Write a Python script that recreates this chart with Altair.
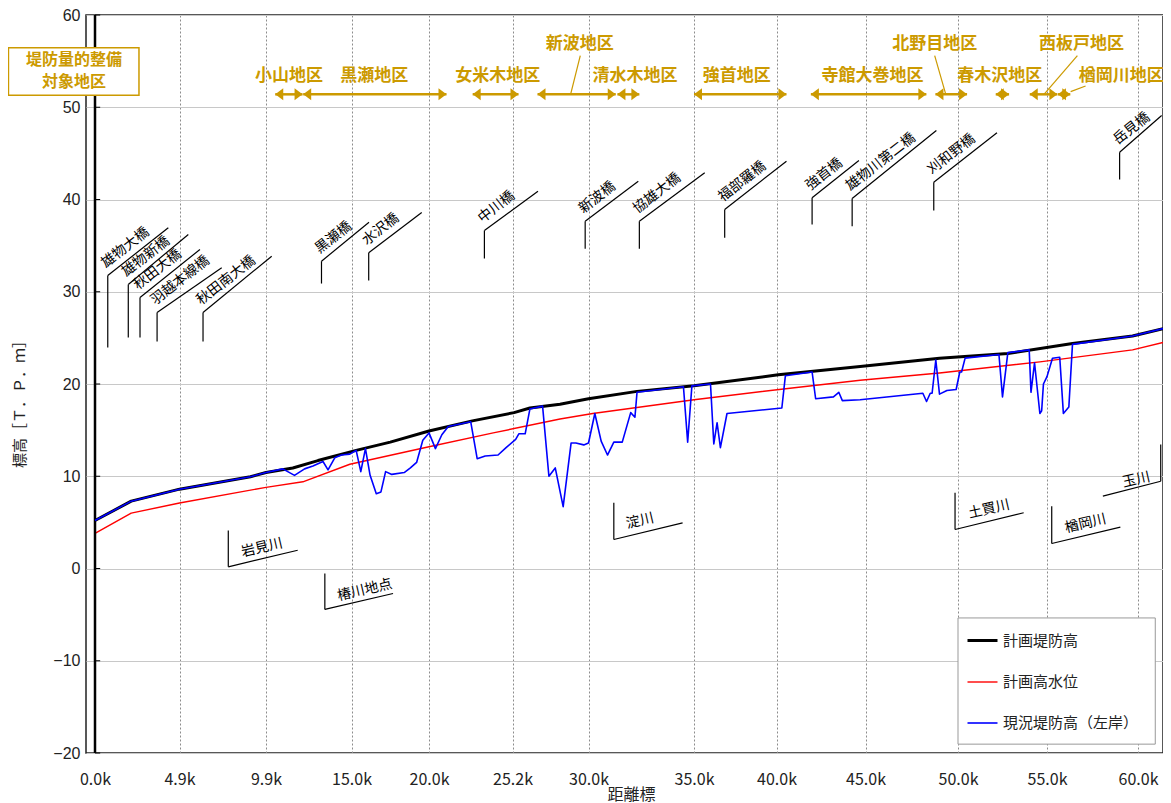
import altair as alt
import pandas as pd

# ---------------- data ----------------
SERIES = ["計画堤防高", "計画高水位", "現況堤防高（左岸）"]

plan_levee_km = [0, 2.1, 4.9, 9.0, 9.9, 11.5, 13.0, 15.3, 17.5, 20.0, 22.7, 25.3, 26.3, 28.2,
                 30.0, 32.3, 35.0, 40.1, 44.7, 49.0, 52.8, 56.4, 59.7, 61.65]
plan_levee_el = [5.2, 7.3, 8.6, 9.95, 10.4, 10.9, 11.7, 12.8, 13.7, 14.9, 16.0, 16.9, 17.4, 17.8,
                 18.4, 19.2, 19.8, 21.0, 21.9, 22.8, 23.3, 24.4, 25.2, 26.0]

hwl_km = [0, 2.1, 4.9, 9.9, 12.1, 14.9, 20.0, 24.0, 28.2, 30.2, 35.0, 41.0, 44.7, 49.0, 54.6,
          59.7, 61.65]
hwl_el = [3.8, 6.0, 7.1, 8.8, 9.4, 11.3, 13.2, 14.7, 16.2, 16.8, 18.3, 19.6, 20.4, 21.2, 22.4,
          23.7, 24.5]

current_km = [0, 2.1, 4.9, 9.0, 9.9, 10.9, 11.6, 12.2, 12.7, 13.3, 13.6, 14.0, 14.4, 14.9, 15.3,
              15.6, 15.9, 16.2, 16.6, 16.9, 17.2, 17.6, 18.4, 18.8, 19.2, 19.6, 20.0, 20.4, 20.8,
              21.2, 22.6, 23.0, 23.5, 24.3, 24.8, 25.4, 25.6, 26.0, 26.3, 27.1, 27.5, 27.9, 28.4,
              28.9, 29.2, 29.7, 30.0, 30.3, 30.6, 30.9, 31.2, 31.6, 32.0, 32.2, 32.3, 34.5, 34.7,
              34.9, 36.0, 36.2, 36.4, 36.6, 37.0, 40.3, 40.5, 42.0, 42.2, 43.2, 43.5, 43.7, 44.7,
              48.1, 48.3, 48.5, 48.6, 48.8, 49.0, 49.4, 49.9, 50.1, 50.2, 50.4, 52.3, 52.5, 52.8,
              54.0, 54.1, 54.3, 54.6, 54.7, 54.8, 55.0, 55.3, 55.7, 55.9, 56.2, 56.4, 59.7, 61.65]
current_el = [5.2, 7.3, 8.6, 9.95, 10.4, 10.8, 10.1, 10.8, 11.1, 11.6, 10.7, 12.0, 12.3, 12.4, 12.8,
              10.5, 13.0, 10.1, 8.1, 8.3, 10.5, 10.2, 10.4, 10.9, 11.5, 13.9, 14.7, 13.0, 14.5,
              15.4, 15.9, 11.9, 12.2, 12.3, 13.1, 14.0, 14.6, 14.6, 17.3, 17.6, 10.0, 10.9, 6.7,
              13.6, 13.6, 13.4, 13.6, 16.8, 13.8, 12.3, 13.7, 13.7, 16.9, 16.4, 19.1, 19.7, 13.7,
              19.8, 20.0, 13.5, 15.8, 13.1, 16.8, 17.4, 20.9, 21.3, 18.4, 18.6, 19.1, 18.2, 18.3,
              19.0, 18.1, 19.0, 19.0, 22.6, 18.9, 19.3, 19.4, 21.3, 21.3, 22.8, 23.2, 18.6, 23.4,
              23.7, 19.1, 22.3, 16.8, 17.1, 20.0, 20.8, 22.8, 22.9, 16.8, 17.5, 24.3, 25.2, 26.0]

x_tick_values = [0, 4.9, 9.9, 15.0, 20.0, 25.2, 30.0, 35.0, 40.0, 45.0, 50.0, 55.0, 60.0]
y_tick_values = [-20, -10, 0, 10, 20, 30, 40, 50, 60]

# bridges: leader foot, bend, end of slanted leader (km, elevation)
bridge_names = ["雄物大橋", "雄物新橋", "秋田大橋", "羽越本線橋", "秋田南大橋", "黒瀬橋", "水沢橋",
                "中川橋", "新波橋", "協雄大橋", "福部羅橋", "強首橋", "雄物川第二橋", "刈和野橋", "岳見橋"]
bridge_km = [0.74, 1.93, 2.61, 3.60, 6.26, 13.21, 16.11, 23.45, 29.79, 32.41, 36.86, 42.0, 44.25,
             48.69, 58.99]
bridge_foot = [23.96, 25.04, 25.04, 24.61, 24.61, 30.89, 31.22, 33.6, 34.66, 34.66, 35.85, 37.29,
               37.1, 38.81, 42.17]
bridge_bend = [31.76, 30.79, 29.38, 27.75, 27.75, 33.31, 34.22, 36.64, 37.65, 37.65, 38.92, 40.18,
               40.11, 41.88, 45.13]
bridge_end_km = [4.25, 5.41, 6.08, 7.34, 10.24, 16.13, 19.53, 26.81, 32.36, 35.65, 40.56, 44.63,
                 48.83, 52.19, 61.56]
bridge_end_el = [36.93, 36.21, 34.58, 32.6, 33.85, 37.54, 38.59, 40.9, 41.98, 42.89, 44.15, 44.23,
                 47.48, 47.23, 49.11]

# tributaries / gauging point
river_names = ["岩見川", "椿川地点", "淀川", "土買川", "楢岡川", "玉川"]
river_km = [7.72, 13.41, 31.2, 49.84, 55.26, 61.5]
river_top = [4.12, -0.54, 7.12, 8.21, 6.75, 13.44]
river_bend = [0.18, -4.44, 3.14, 4.23, 2.71, 9.46]
river_end_km = [11.79, 17.68, 34.46, 53.69, 59.03, 58.07]
river_end_el = [1.98, -2.71, 4.95, 6.04, 4.48, 7.84]
river_label_km = [9.67, 15.86, 32.44, 51.74, 57.12, 59.91]
river_label_el = [2.22, -2.36, 5.13, 6.4, 4.85, 9.59]

# districts (堤防量的整備対象地区)
district_names = ["小山地区", "黒瀬地区", "女米木地区", "新波地区", "清水木地区", "強首地区",
                  "寺館大巻地区", "北野目地区", "春木沢地区", "西板戸地区", "楢岡川地区"]
district_from = [10.45, 12.12, 22.72, 26.78, 31.37, 35.0, 41.93, 48.78, 52.12, 54.03, 55.6]
district_to = [12.08, 21.09, 25.58, 31.29, 32.41, 40.56, 48.29, 50.51, 52.87, 55.57, 56.28]
district_label_km = [11.27, 16.47, 24.28, 29.45, 32.2, 37.59, 45.38, 48.74, 52.34, 56.9, 59.08]
district_label_el = [53.44, 53.44, 53.44, 56.9, 53.44, 53.44, 53.44, 56.9, 53.44, 56.9, 53.44]
district_arrow_el = 51.4
leader_from_km = [28.87, 49.34, 54.83, 56.3]
leader_from_el = [51.4, 51.4, 51.4, 51.7]
leader_to_km = [29.48, 48.74, 56.67, 57.12]
leader_to_el = [55.6, 55.6, 55.6, 52.3]

box_lines = ["堤防量的整備", "対象地区"]
box_km = [-5.0, 2.55]
box_el = [51.3, 56.45]
box_text_km = -1.22
box_text_el = [55.1, 52.7]

legend_box_km = [50.0, 61.14]
legend_box_el = [-19.04, -5.36]

# ---------------- styling ----------------
GOLD = "#CC9A00"
JP = "Noto Sans CJK JP"
W, H = 1077, 738

x_domain = [-0.52] + x_tick_values + [61.65]
x_range = [0, 9, 93.5, 180, 265.5, 343, 426.5, 502.5, 608, 690.5, 779.5, 872, 961, 1052, 1077]
xs = alt.Scale(domain=x_domain, range=x_range, nice=False, zero=False)
ys = alt.Scale(domain=[-20, 60], nice=False, zero=False)

x_axis = alt.Axis(values=x_tick_values, labelExpr="format(datum.value, '.1f') + 'k'",
                  grid=True, gridDash=[2, 2], gridColor="#8c8c8c", gridWidth=1,
                  ticks=False, domain=False, labelPadding=18, labelFont=JP, labelFontSize=16,
                  labelColor="#222", labelOverlap=False, labelFlush=False,
                  title="距離標", titleFont=JP, titleFontSize=16, titleFontWeight="normal",
                  titleColor="#222", titleX=545, titleY=41, titleAlign="center",
                  titleBaseline="middle")
y_axis = alt.Axis(values=y_tick_values, grid=True, gridColor="#c8c8c8", gridWidth=1,
                  ticks=False, domain=False, labelPadding=6, labelFont="Liberation Sans",
                  labelFontSize=16, labelColor="#222",
                  title="標高［Ｔ．Ｐ．ｍ］", titleFont=JP, titleFontSize=15,
                  titleFontWeight="normal", titleColor="#222", titleX=-67, titleY=385,
                  titleAngle=270, titleAlign="center", titleBaseline="middle")


def X(field):
    return alt.X(f"{field}:Q", scale=xs, axis=x_axis)


def Y(field):
    return alt.Y(f"{field}:Q", scale=ys, axis=y_axis)


legend = alt.Legend(title=None, orient="none", legendX=869, legendY=599, direction="vertical",
                    symbolType="stroke", symbolSize=900, symbolOffset=1, labelFont=JP,
                    labelFontSize=15, labelColor="#222", labelOffset=4, padding=10, rowPadding=17,
                    strokeColor="transparent", fillColor="transparent")
color_scale = alt.Scale(domain=SERIES, range=["#000000", "#FF0000", "#0000FF"])
width_scale = alt.Scale(domain=SERIES, range=[3, 1.4, 1.6], type="ordinal")

# ---------------- tables ----------------
series_frames = {
    SERIES[0]: pd.DataFrame({"km": plan_levee_km, "el": plan_levee_el, "series": SERIES[0]}),
    SERIES[1]: pd.DataFrame({"km": hwl_km, "el": hwl_el, "series": SERIES[1]}),
    SERIES[2]: pd.DataFrame({"km": current_km, "el": current_el, "series": SERIES[2]}),
}

bridge_segs = pd.DataFrame({
    "x1": bridge_km + bridge_km,
    "y1": bridge_foot + bridge_bend,
    "x2": bridge_km + bridge_end_km,
    "y2": bridge_bend + bridge_end_el,
})
river_segs = pd.DataFrame({
    "x1": river_km + river_km,
    "y1": river_top + river_bend,
    "x2": river_km + river_end_km,
    "y2": river_bend + river_end_el,
})
bridge_labels = pd.DataFrame({"name": bridge_names, "km": bridge_km, "el": bridge_bend})
river_labels = pd.DataFrame({"name": river_names, "km": river_label_km, "el": river_label_el})
district_arrows = pd.DataFrame({"x1": district_from, "x2": district_to,
                                "y": [district_arrow_el] * len(district_from)})
district_labels = pd.DataFrame({"name": district_names, "km": district_label_km,
                                "el": district_label_el})
leaders = pd.DataFrame({"x1": leader_from_km, "y1": leader_from_el,
                        "x2": leader_to_km, "y2": leader_to_el})
box_df = pd.DataFrame({"x1": [box_km[0]], "x2": [box_km[1]], "y1": [box_el[0]], "y2": [box_el[1]]})
box_text = pd.DataFrame({"name": box_lines, "km": [box_text_km] * 2, "el": box_text_el})
legend_box_df = pd.DataFrame({"x1": [legend_box_km[0]], "x2": [legend_box_km[1]],
                              "y1": [legend_box_el[0]], "y2": [legend_box_el[1]]})
zero_df = pd.DataFrame({"km": [0]})
yticks_df = pd.DataFrame({"el": y_tick_values})

# ---------------- layers ----------------
zero_rule = alt.Chart(zero_df).mark_rule(color="black", strokeWidth=2.5).encode(x=X("km"))
tick_marks = alt.Chart(yticks_df).mark_rule(color="black", strokeWidth=1).transform_calculate(
    x0="0", x1="0.3").encode(x=X("x0"), x2="x1:Q", y=Y("el"))


def line_layer(name):
    return alt.Chart(series_frames[name]).mark_line(strokeJoin="round").encode(
        x=X("km"),
        y=Y("el"),
        color=alt.Color("series:N", scale=color_scale, legend=legend),
        strokeWidth=alt.StrokeWidth("series:N", scale=width_scale, legend=legend),
        order="km:Q",
    )


hwl_line = line_layer(SERIES[1])
plan_line = line_layer(SERIES[0])
cur_line = line_layer(SERIES[2])

bridge_rules = alt.Chart(bridge_segs).mark_rule(color="black", strokeWidth=1.2).encode(
    x=X("x1"), y=Y("y1"), x2="x2:Q", y2="y2:Q")
river_rules = alt.Chart(river_segs).mark_rule(color="black", strokeWidth=1.2).encode(
    x=X("x1"), y=Y("y1"), x2="x2:Q", y2="y2:Q")
bridge_text = alt.Chart(bridge_labels).mark_text(
    font=JP, fontSize=14, angle=322, align="left", baseline="bottom", dx=3, dy=-4,
    color="black").encode(x=X("km"), y=Y("el"), text="name:N")
river_text = alt.Chart(river_labels).mark_text(
    font=JP, fontSize=14, angle=347, align="center", baseline="middle",
    color="black").encode(x=X("km"), y=Y("el"), text="name:N")

arrow_lines = alt.Chart(district_arrows).mark_rule(color=GOLD, strokeWidth=2.5).encode(
    x=X("x1"), x2="x2:Q", y=Y("y"))
arrow_left = alt.Chart(district_arrows).mark_point(
    shape="M0,0L2,-1.5L2,1.5Z", size=64, filled=True, color=GOLD, opacity=1,
    strokeWidth=0).encode(x=X("x1"), y=Y("y"))
arrow_right = alt.Chart(district_arrows).mark_point(
    shape="M0,0L-2,-1.5L-2,1.5Z", size=64, filled=True, color=GOLD, opacity=1,
    strokeWidth=0).encode(x=X("x2"), y=Y("y"))
leader_rules = alt.Chart(leaders).mark_rule(color=GOLD, strokeWidth=1.2).encode(
    x=X("x1"), y=Y("y1"), x2="x2:Q", y2="y2:Q")
district_text = alt.Chart(district_labels).mark_text(
    font=JP, fontSize=17, fontWeight="bold", color=GOLD, align="center",
    baseline="middle").encode(x=X("km"), y=Y("el"), text="name:N")

box_rect = alt.Chart(box_df).mark_rect(fill="white", stroke=GOLD, strokeWidth=1.5).encode(
    x=X("x1"), x2="x2:Q", y=Y("y1"), y2="y2:Q")
box_label = alt.Chart(box_text).mark_text(
    font=JP, fontSize=16, fontWeight="bold", color=GOLD, align="center",
    baseline="middle").encode(x=X("km"), y=Y("el"), text="name:N")
legend_rect = alt.Chart(legend_box_df).mark_rect(fill="white", stroke="#999",
                                                 strokeWidth=1).encode(
    x=X("x1"), x2="x2:Q", y=Y("y1"), y2="y2:Q")

chart = alt.layer(
    hwl_line, zero_rule, tick_marks, plan_line, cur_line,
    bridge_rules, river_rules, bridge_text, river_text,
    arrow_lines, arrow_left, arrow_right, leader_rules, district_text,
    box_rect, box_label, legend_rect,
).properties(
    width=W, height=H, autosize=alt.AutoSizeParams(type="none"),
    padding={"left": 78, "top": 7, "right": 0, "bottom": 50},
).configure_view(stroke="#222", strokeWidth=1.5)

chart.save("out.html", embed_options={"renderer": "svg", "actions": False})
